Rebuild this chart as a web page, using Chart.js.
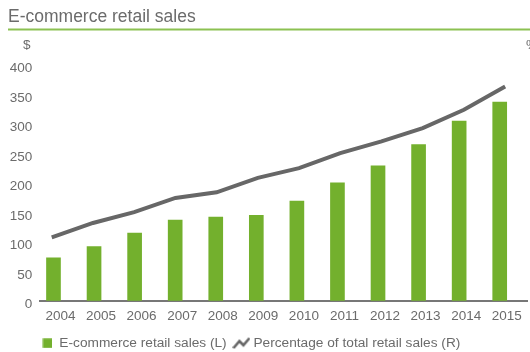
<!DOCTYPE html>
<html>
<head>
<meta charset="utf-8">
<script src="https://cdn.jsdelivr.net/npm/chart.js@4/dist/chart.umd.min.js"></script>
<style>
  html, body { margin: 0; padding: 0; background: #ffffff; }
  #wrap { width: 530px; height: 352px; }
</style>
</head>
<body>
<div id="wrap"><canvas id="c" width="530" height="352"></canvas></div>
<script>
// US e-commerce retail sales ($ billions, left axis) and share of total retail (%, right axis)
const years = ['2004', '2005', '2006', '2007', '2008', '2009', '2010', '2011', '2012', '2013', '2014', '2015'];
const salesBn = [73, 92, 115, 137, 142, 145, 169, 200, 229, 265, 305, 337];
const sharePct = [2.15, 2.64, 3.01, 3.49, 3.68, 4.17, 4.50, 5.01, 5.41, 5.86, 6.48, 7.27];
const salesTicks = [0, 50, 100, 150, 200, 250, 300, 350, 400];
const shareTicks = [0, 1, 2, 3, 4, 5, 6, 7, 8];

const FONT = '"Liberation Sans", Arial, Helvetica, sans-serif';
const TEXT = '#6b6b6b';
const BAR = '#73b02d';
const LINE = '#676767';
const RULE = '#8cc152';

// legend icons
function squareIcon() {
  const c = document.createElement('canvas');
  c.width = 10; c.height = 10;
  const g = c.getContext('2d');
  g.fillStyle = BAR;
  g.fillRect(0.5, 0.3, 9.5, 9.5);
  return c;
}
function zigzagIcon() {
  const c = document.createElement('canvas');
  c.width = 18; c.height = 12;
  const g = c.getContext('2d');
  g.strokeStyle = LINE;
  g.lineWidth = 2.6;
  g.lineJoin = 'miter';
  g.beginPath();
  g.moveTo(1, 11); g.lineTo(7, 4); g.lineTo(11, 8); g.lineTo(17, 1);
  g.stroke();
  return c;
}
const legendIcons = [squareIcon(), zigzagIcon()];

// heading, green rule and axis unit captions
const header = {
  id: 'header',
  afterDraw(chart) {
    const ctx = chart.ctx;
    ctx.save();
    ctx.fillStyle = TEXT;
    ctx.font = '17.5px ' + FONT;
    ctx.textBaseline = 'alphabetic';
    ctx.textAlign = 'left';
    ctx.fillText('E-commerce retail sales', 8, 21.5);
    ctx.fillStyle = RULE;
    ctx.fillRect(8, 28.5, 522, 2);
    ctx.fillStyle = TEXT;
    ctx.font = '13.5px ' + FONT;
    ctx.textBaseline = 'middle';
    ctx.fillText('$', 23, 45);
    ctx.fillText('%', 526, 45);
    ctx.restore();
  }
};

new Chart(document.getElementById('c'), {
  data: {
    labels: years,
    datasets: [
      {
        type: 'bar',
        label: 'E-commerce retail sales (L)',
        data: salesBn,
        backgroundColor: BAR,
        barThickness: 14,
        xAxisID: 'x',
        yAxisID: 'y',
        order: 2
      },
      {
        type: 'line',
        label: 'Percentage of total retail sales (R)',
        data: years.map((y, i) => ({ x: Number(y), y: sharePct[i] })),
        borderColor: LINE,
        borderWidth: 4,
        pointRadius: 0,
        tension: 0,
        fill: false,
        xAxisID: 'x2',
        yAxisID: 'y2',
        order: 1
      }
    ]
  },
  options: {
    responsive: false,
    animation: false,
    devicePixelRatio: 1,
    layout: { padding: { top: 65, left: 0, right: 3, bottom: -8 } },
    scales: {
      x: {
        type: 'category',
        offset: true,
        grid: { display: false, drawTicks: false },
        border: { display: true, color: '#777777', width: 2 },
        ticks: { color: TEXT, font: { family: FONT, size: 13.5 }, padding: 7, maxRotation: 0, autoSkip: false },
        afterFit(s) { s.height = 33.5; }
      },
      x2: {
        type: 'linear',
        display: false,
        min: 2003.72,
        max: 2015.53
      },
      y: {
        position: 'left',
        min: 0,
        max: 400,
        grid: { display: false, drawTicks: false },
        border: { display: false },
        afterBuildTicks(s) { s.ticks = salesTicks.map(v => ({ value: v })); },
        ticks: {
          color: TEXT,
          padding: 8,
          font: { family: FONT, size: 13.5, lineHeight: '7px' },
          callback: (v) => ['', String(v)]
        },
        afterFit(s) { s.width = 40.2; }
      },
      y2: {
        position: 'right',
        display: false,
        min: 0,
        max: 8,
        afterBuildTicks(s) { s.ticks = shareTicks.map(v => ({ value: v })); }
      }
    },
    plugins: {
      title: { display: false },
      tooltip: { enabled: false },
      legend: {
        position: 'bottom',
        align: 'start',
        fullSize: false,
        labels: {
          usePointStyle: true,
          pointStyleWidth: 10.3,
          padding: 2,
          color: TEXT,
          font: { family: FONT, size: 13.7 },
          generateLabels(chart) {
            const items = Chart.defaults.plugins.legend.labels.generateLabels(chart);
            items.sort((a, b) => a.datasetIndex - b.datasetIndex);
            items.forEach((it) => {
              it.pointStyle = legendIcons[it.datasetIndex];
              it.lineWidth = 0;
              if (it.datasetIndex === 0) it.text += '  ';
            });
            return items;
          }
        }
      }
    }
  },
  plugins: [header]
});
</script>
</body>
</html>
